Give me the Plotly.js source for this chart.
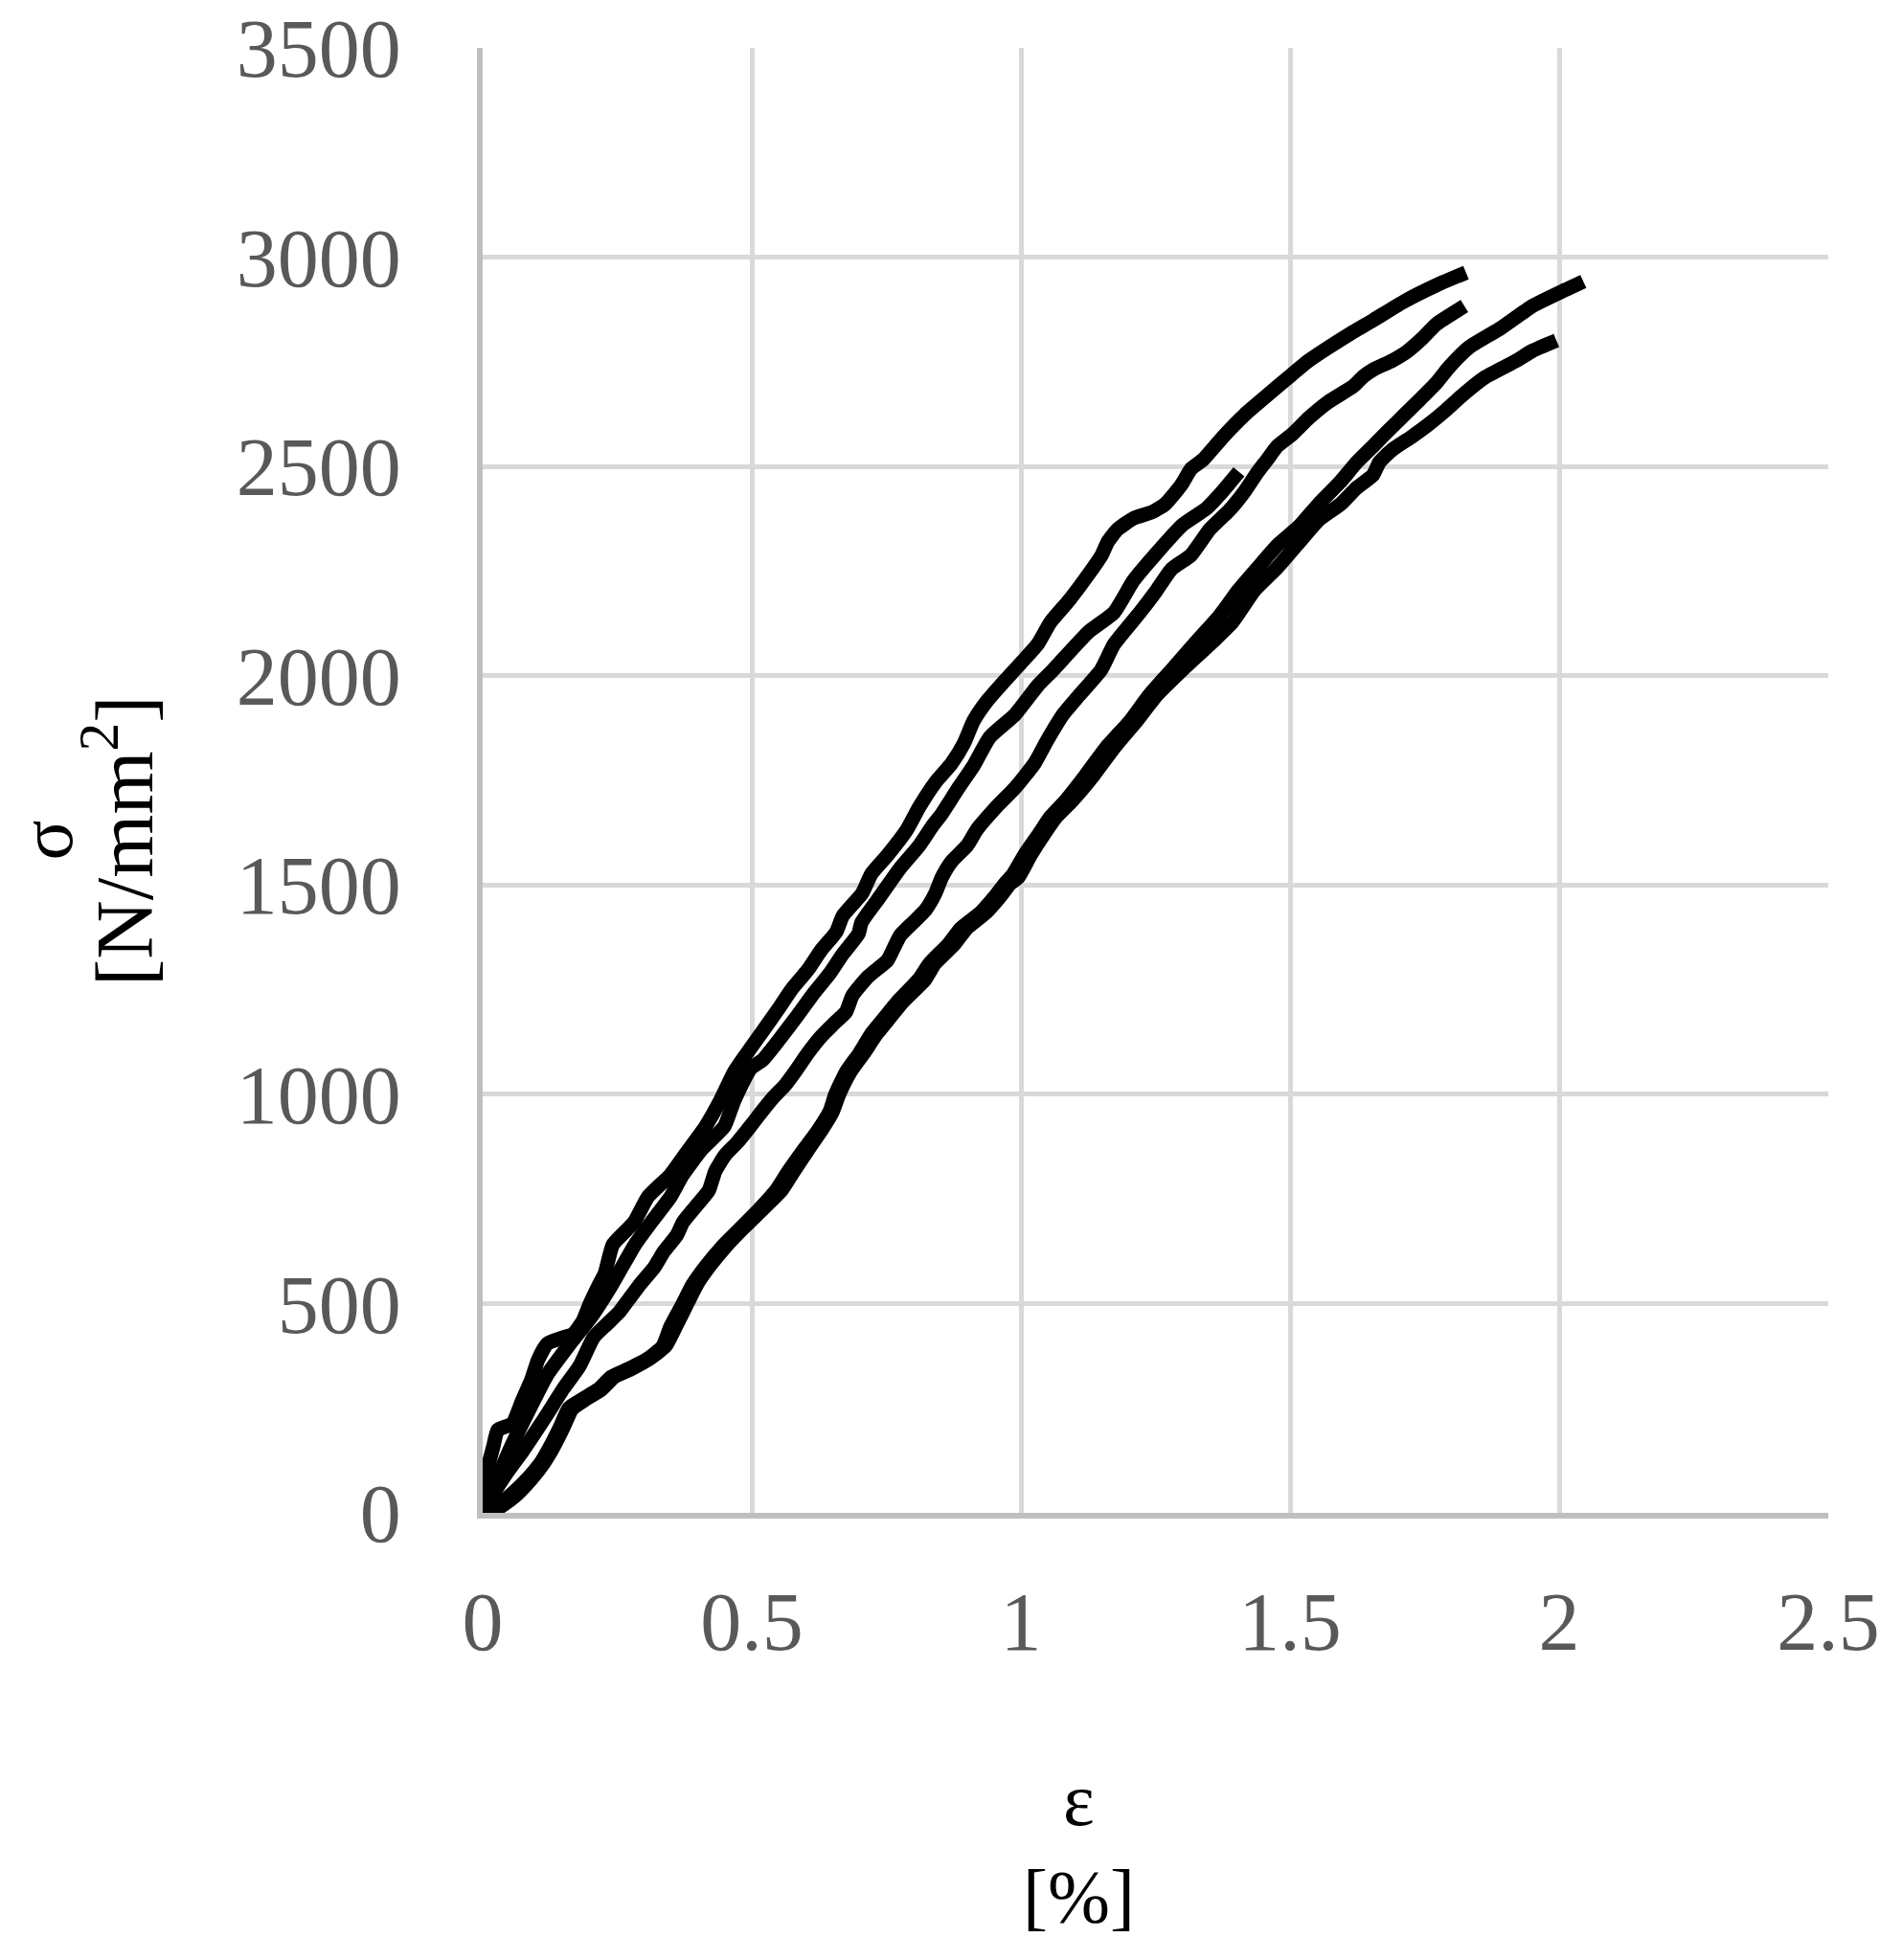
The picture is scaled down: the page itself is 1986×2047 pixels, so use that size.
<!DOCTYPE html>
<html>
<head>
<meta charset="utf-8">
<script src="https://cdn.plot.ly/plotly-3.0.1.min.js"></script>
<style>
  html, body { margin: 0; padding: 0; background: #ffffff; }
  #chart { width: 1986px; height: 2047px; }
</style>
</head>
<body>
<div id="chart"></div>
<script>
// Strain ε [%] and stress σ [N/mm²] for five specimens
const specimenA_x = [0,0.008,0.020,0.028,0.055,0.073,0.091,0.103,0.120,0.150,0.168,0.186,0.198,0.215,0.227,0.242,0.281,0.307,0.349,0.384,0.414,0.441,0.467,0.491,0.521,0.550,0.574,0.604,0.628,0.657,0.669,0.705,0.722,0.752,0.788,0.811,0.841,0.871,0.894,0.912,0.936,0.972,1.007,1.031,1.055,1.090,1.126,1.150,1.161,1.179,1.209,1.244,1.268,1.298,1.316,1.339,1.375,1.416,1.464,1.499,1.535,1.571,1.618,1.654,1.713,1.772,1.827];
const specimenA_y = [0,99,160,198,213,267,320,366,404,419,427,458,496,542,572,641,694,755,808,870,923,984,1053,1098,1152,1205,1251,1297,1343,1388,1426,1480,1526,1571,1632,1686,1745,1790,1838,1892,1938,1991,2040,2075,2128,2181,2243,2288,2319,2349,2376,2391,2410,2456,2494,2517,2570,2624,2677,2715,2753,2784,2822,2849,2895,2933,2963];

const specimenE_x = [0,0.020,0.050,0.080,0.120,0.160,0.200,0.240,0.283,0.313,0.349,0.372,0.408,0.449,0.467,0.497,0.521,0.550,0.586,0.616,0.645,0.669,0.698,0.704,0.734,0.776,0.811,0.835,0.853,0.883,0.912,0.942,0.989,1.031,1.060,1.126,1.173,1.209,1.250,1.300,1.345,1.375,1.405];
const specimenE_y = [0,60,150,230,330,400,465,545,641,694,755,808,870,923,984,1060,1083,1129,1190,1243,1289,1335,1383,1411,1465,1541,1594,1640,1670,1730,1785,1853,1907,1976,2014,2105,2151,2227,2290,2360,2400,2441,2487];

const specimenB_x = [0,0.020,0.043,0.073,0.097,0.120,0.150,0.180,0.206,0.230,0.254,0.272,0.290,0.319,0.337,0.361,0.372,0.396,0.420,0.432,0.450,0.473,0.497,0.515,0.539,0.562,0.580,0.604,0.628,0.651,0.675,0.687,0.716,0.752,0.764,0.776,0.800,0.823,0.841,0.853,0.871,0.900,0.918,0.954,0.989,1.025,1.049,1.078,1.108,1.149,1.173,1.221,1.250,1.280,1.316,1.351,1.387,1.416,1.440,1.458,1.476,1.505,1.535,1.571,1.618,1.636,1.654,1.690,1.718,1.745,1.772,1.824];
const specimenB_y = [0,46,92,145,191,236,297,351,419,450,480,511,542,587,625,664,694,732,770,816,854,885,923,953,991,1022,1053,1098,1137,1167,1197,1236,1281,1320,1350,1380,1411,1441,1480,1518,1556,1594,1632,1686,1732,1790,1846,1907,1953,2014,2075,2151,2200,2255,2288,2350,2395,2441,2487,2517,2548,2578,2616,2654,2692,2715,2731,2753,2775,2805,2840,2883];

const specimenC_x = [0,0.026,0.055,0.085,0.109,0.126,0.144,0.160,0.186,0.215,0.239,0.269,0.304,0.334,0.349,0.372,0.390,0.415,0.445,0.475,0.510,0.545,0.568,0.595,0.622,0.645,0.655,0.675,0.700,0.722,0.746,0.770,0.810,0.830,0.865,0.888,0.925,0.950,0.970,0.985,1.008,1.035,1.055,1.082,1.120,1.160,1.203,1.238,1.280,1.325,1.369,1.404,1.440,1.476,1.517,1.553,1.594,1.624,1.654,1.683,1.713,1.743,1.772,1.796,1.832,1.891,1.950,2.010,2.045];
const specimenC_y = [0,15,46,84,122,160,206,250,272,295,325,343,366,397,445,500,545,590,636,675,720,770,816,865,912,960,999,1053,1098,1144,1182,1220,1274,1312,1358,1396,1434,1470,1503,1525,1575,1625,1663,1700,1762,1831,1892,1953,2014,2080,2143,2204,2258,2311,2357,2410,2464,2510,2548,2586,2624,2662,2700,2738,2784,2830,2883,2921,2942];

const specimenD_x = [0,0.030,0.060,0.090,0.113,0.131,0.150,0.166,0.192,0.221,0.245,0.275,0.310,0.340,0.358,0.382,0.400,0.425,0.455,0.484,0.520,0.555,0.578,0.605,0.630,0.650,0.662,0.683,0.708,0.732,0.756,0.780,0.822,0.840,0.876,0.899,0.935,0.960,0.980,0.995,1.018,1.045,1.066,1.095,1.135,1.175,1.215,1.252,1.300,1.357,1.393,1.434,1.476,1.517,1.553,1.594,1.624,1.654,1.666,1.690,1.725,1.755,1.790,1.820,1.861,1.921,1.950,1.995];
const specimenD_y = [0,12,40,80,118,156,204,248,272,295,325,343,368,399,443,505,550,595,641,680,725,770,816,868,915,958,999,1053,1098,1144,1182,1220,1274,1312,1358,1396,1434,1470,1503,1518,1571,1625,1663,1701,1762,1831,1892,1953,2014,2082,2128,2204,2258,2319,2372,2410,2449,2479,2510,2540,2570,2598,2635,2670,2712,2753,2776,2801];

const xTickVals = [0, 0.5, 1, 1.5, 2, 2.5];
const xTickText = ["0", "0.5", "1", "1.5", "2", "2.5"];
const yTickVals = [0, 500, 1000, 1500, 2000, 2500, 3000, 3500];
const yTickText = ["0", "500", "1000", "1500", "2000", "2500", "3000", "3500"];

const series = [
  [specimenA_x, specimenA_y],
  [specimenE_x, specimenE_y],
  [specimenB_x, specimenB_y],
  [specimenC_x, specimenC_y],
  [specimenD_x, specimenD_y]
];

const traces = series.map(s => ({
  x: s[0], y: s[1],
  type: 'scatter', mode: 'lines',
  line: { color: '#000000', width: 15, shape: 'spline', smoothing: 0.5 },
  showlegend: false, hoverinfo: 'skip'
}));

const serif = 'Liberation Serif, "DejaVu Serif", serif';
const tickFont = { family: serif, size: 86, color: '#595959' };
const titleFont = { family: serif, size: 78, color: '#000000' };
const yUnitFont = { family: serif, size: 85, color: '#000000' };

const PL = 504, PT = 50, PW = 1405, PH = 1530;
const px = X => (X - PL) / PW;
const py = Y => (PT + PH - Y) / PH;

const layout = {
  width: 1986, height: 2047,
  paper_bgcolor: '#ffffff', plot_bgcolor: '#ffffff',
  margin: { l: PL, r: 1986 - PL - PW, t: PT, b: 2047 - PT - PH, pad: 0 },
  showlegend: false,
  xaxis: {
    range: [0, 2.5], tickmode: 'array', tickvals: xTickVals, ticktext: xTickText,
    showgrid: true, gridcolor: '#d9d9d9', gridwidth: 5,
    showline: true, linecolor: '#bfbfbf', linewidth: 6,
    zeroline: false, ticks: '', tickfont: tickFont, ticklabelstandoff: 34,
    ticklabeloverflow: 'allow'
  },
  yaxis: {
    range: [0, 3500], tickmode: 'array', tickvals: yTickVals, ticktext: yTickText,
    showgrid: true, gridcolor: '#d9d9d9', gridwidth: 5,
    showline: true, linecolor: '#bfbfbf', linewidth: 6,
    zeroline: false, ticks: '', tickfont: tickFont, ticklabelstandoff: 62,
    ticklabelshift: 0, ticklabeloverflow: 'allow'
  },
  annotations: [
    {
      text: 'ε<br>[%]', xref: 'paper', yref: 'paper',
      x: px(1126), y: py(1930),
      xanchor: 'center', yanchor: 'middle', showarrow: false,
      font: titleFont, align: 'center'
    },
    {
      text: 'σ', xref: 'paper', yref: 'paper',
      x: px(2), y: py(878),
      xanchor: 'left', yanchor: 'middle', showarrow: false,
      textangle: -90, font: titleFont
    },
    {
      text: '[N/mm<sup>2</sup>]', xref: 'paper', yref: 'paper',
      x: px(123), y: py(878),
      xanchor: 'center', yanchor: 'middle', showarrow: false,
      textangle: -90, font: yUnitFont
    }
  ]
};

Plotly.newPlot('chart', traces, layout, { staticPlot: true, displayModeBar: false });
</script>
</body>
</html>
